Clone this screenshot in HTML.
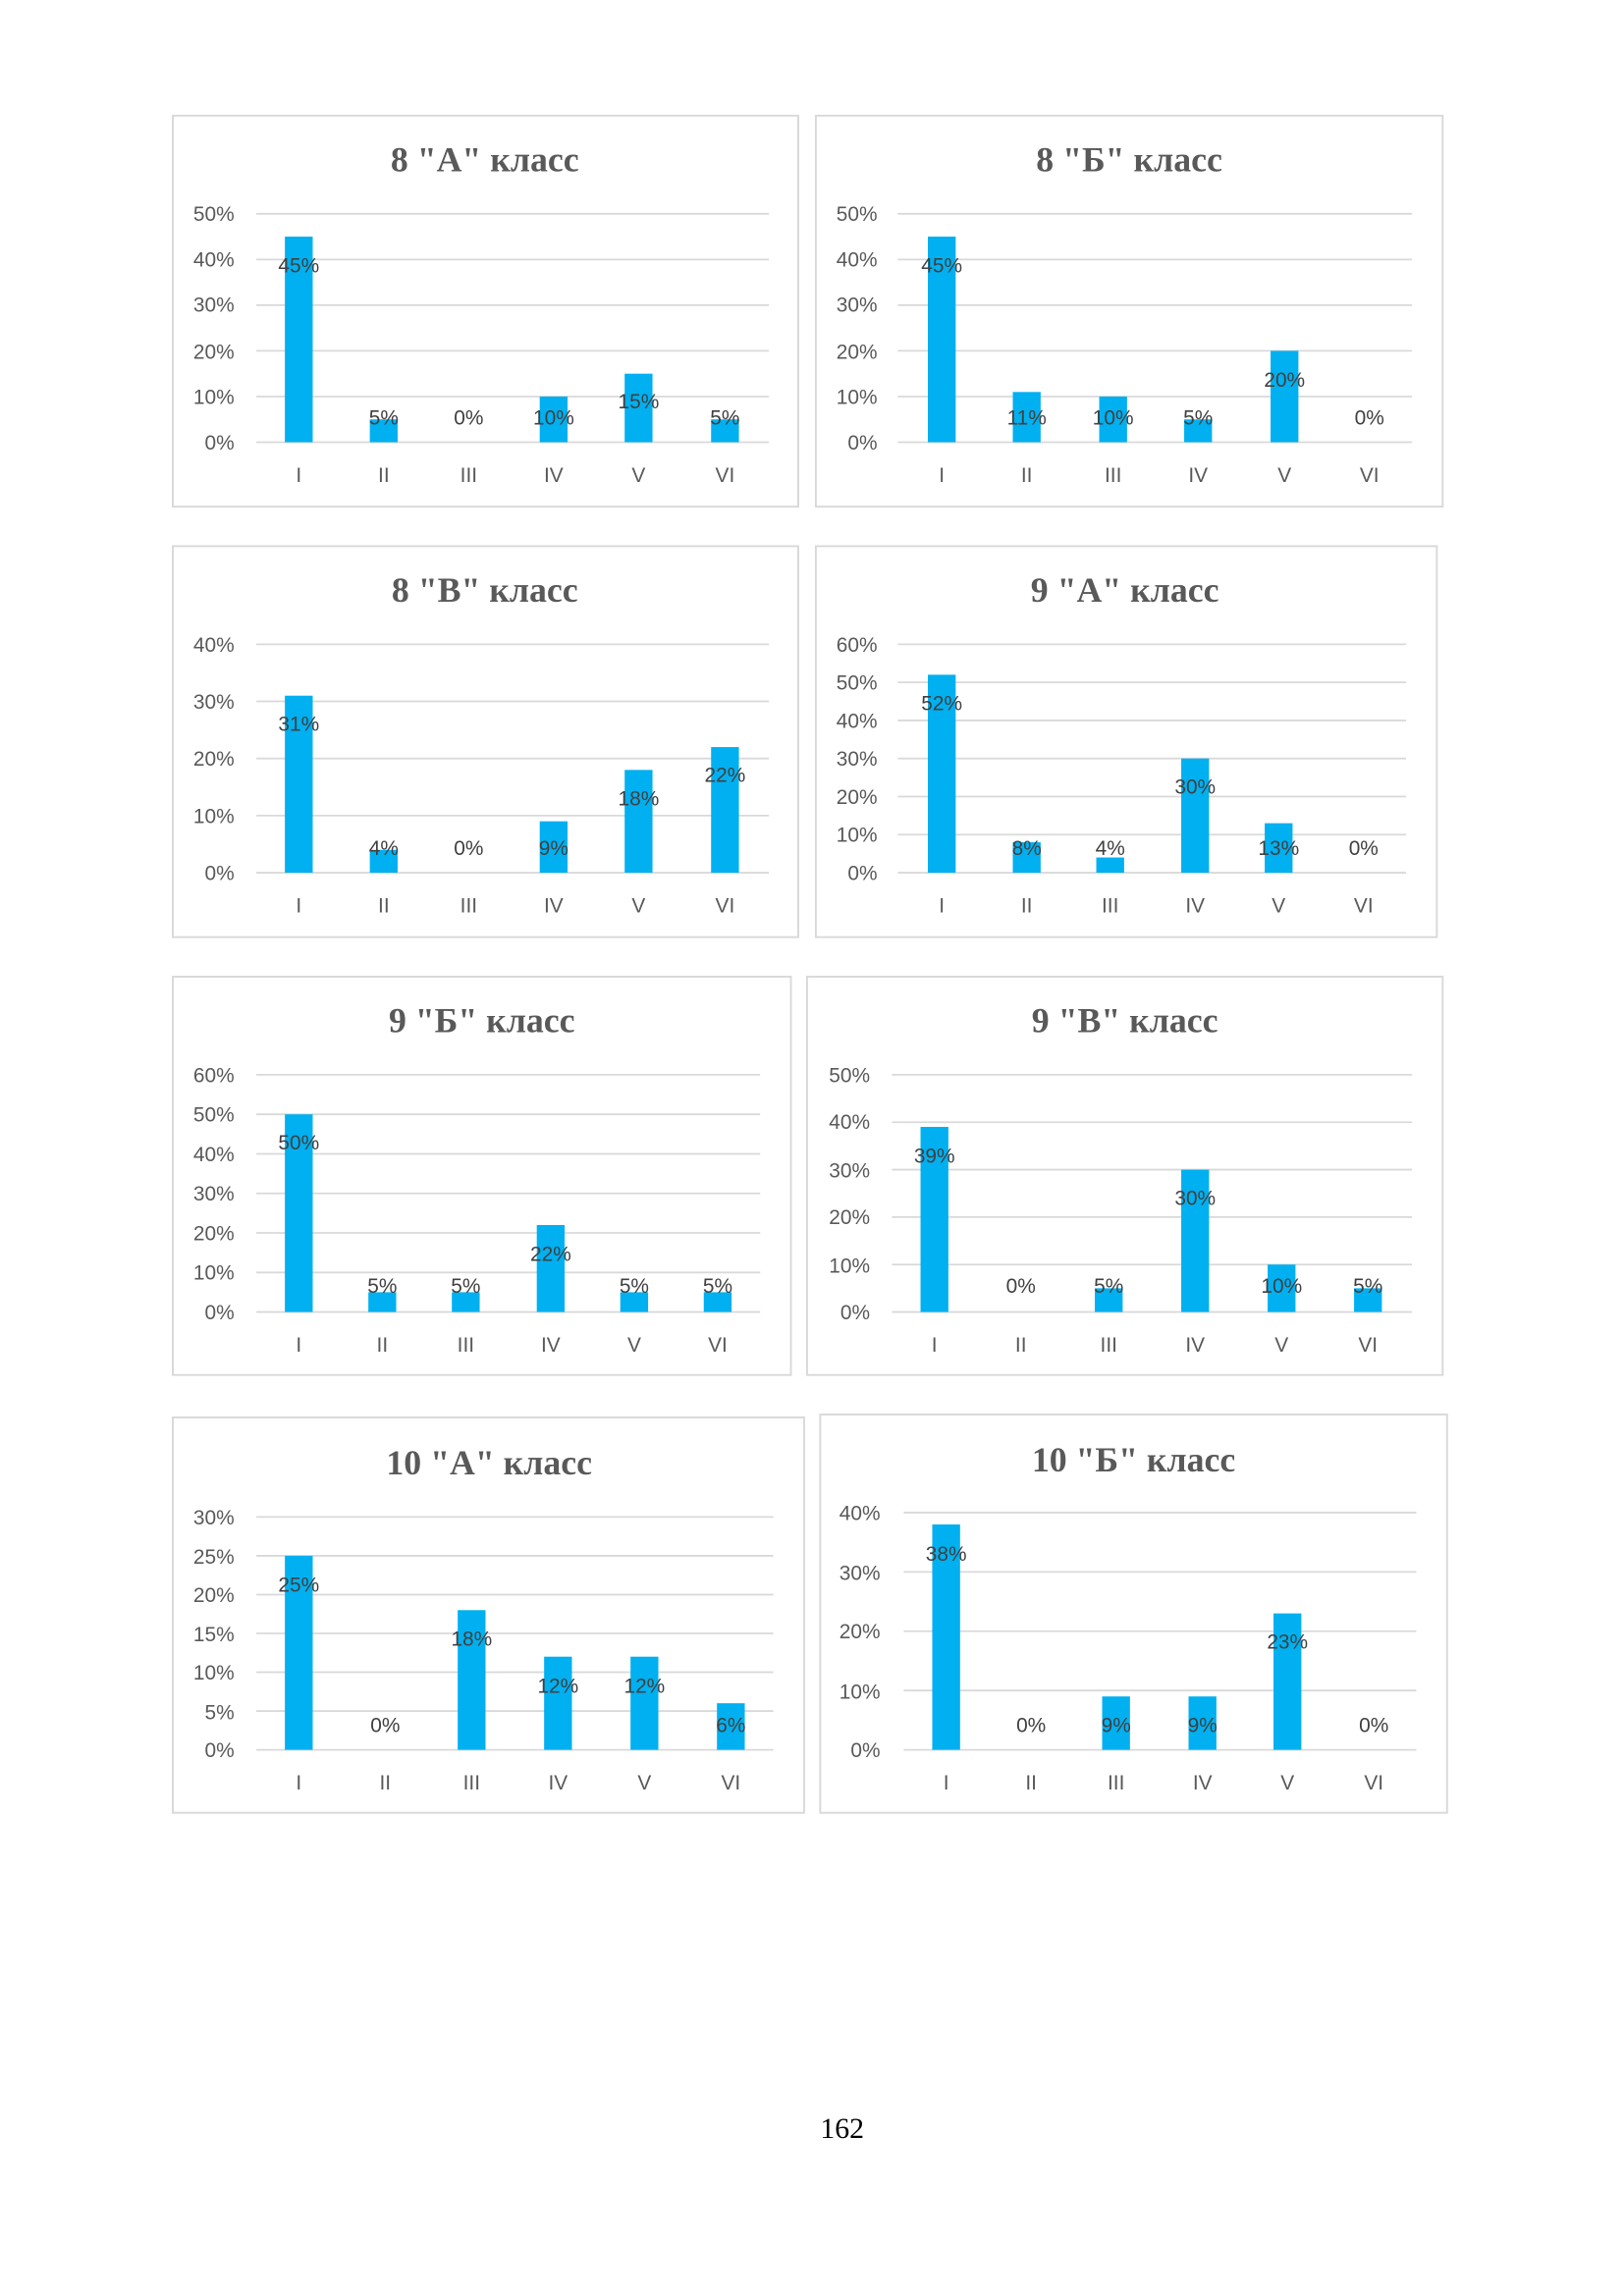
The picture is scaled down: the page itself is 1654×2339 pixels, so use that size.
<!DOCTYPE html>
<html><head><meta charset="utf-8"><style>
html,body{margin:0;padding:0;background:#fff;}
svg{display:block;}
.t{font-family:"Liberation Serif",serif;font-weight:bold;font-size:24px;fill:#595959;text-anchor:middle;}
.y{font-family:"Liberation Sans",sans-serif;font-size:14px;fill:#595959;text-anchor:end;}
.x{font-family:"Liberation Sans",sans-serif;font-size:14px;fill:#595959;text-anchor:middle;}
.d{font-family:"Liberation Sans",sans-serif;font-size:14px;fill:#404040;text-anchor:middle;}
.b{fill:#00B0F0;}
.g{stroke:#d9d9d9;stroke-width:1.2;}
.box{fill:#fff;stroke:#d9d9d9;stroke-width:1.3;}
</style></head><body>
<svg width="1654" height="2339" viewBox="0 0 1108.8 1568" xmlns="http://www.w3.org/2000/svg">
<!-- Chart 1 -->
<rect class="box" x="118" y="79" width="427" height="267"/>
<text class="t" x="331" y="117">8 "А" класс</text>
<g class="g"><line x1="175" x2="525" y1="146" y2="146"/><line x1="175" x2="525" y1="177.2" y2="177.2"/><line x1="175" x2="525" y1="208.4" y2="208.4"/><line x1="175" x2="525" y1="239.6" y2="239.6"/><line x1="175" x2="525" y1="270.8" y2="270.8"/><line x1="175" x2="525" y1="302" y2="302"/></g>
<text class="y" x="160" y="151">50%</text><text class="y" x="160" y="182">40%</text><text class="y" x="160" y="213">30%</text><text class="y" x="160" y="245">20%</text><text class="y" x="160" y="276">10%</text><text class="y" x="160" y="307">0%</text>
<rect class="b" x="194.5" y="161.6" width="19" height="140.4"/><rect class="b" x="252.5" y="286.4" width="19" height="15.6"/><rect class="b" x="368.5" y="270.8" width="19" height="31.2"/><rect class="b" x="426.5" y="255.2" width="19" height="46.8"/><rect class="b" x="485.5" y="286.4" width="19" height="15.6"/>
<text class="d" x="204" y="186">45%</text><text class="d" x="262" y="290">5%</text><text class="d" x="320" y="290">0%</text><text class="d" x="378" y="290">10%</text><text class="d" x="436" y="279">15%</text><text class="d" x="495" y="290">5%</text>
<text class="x" x="204" y="329">I</text><text class="x" x="262" y="329">II</text><text class="x" x="320" y="329">III</text><text class="x" x="378" y="329">IV</text><text class="x" x="436" y="329">V</text><text class="x" x="495" y="329">VI</text>

<!-- Chart 2 -->
<rect class="box" x="557" y="79" width="428" height="267"/>
<text class="t" x="771" y="117">8 "Б" класс</text>
<g class="g"><line x1="613" x2="964" y1="146" y2="146"/><line x1="613" x2="964" y1="177.2" y2="177.2"/><line x1="613" x2="964" y1="208.4" y2="208.4"/><line x1="613" x2="964" y1="239.6" y2="239.6"/><line x1="613" x2="964" y1="270.8" y2="270.8"/><line x1="613" x2="964" y1="302" y2="302"/></g>
<text class="y" x="599" y="151">50%</text><text class="y" x="599" y="182">40%</text><text class="y" x="599" y="213">30%</text><text class="y" x="599" y="245">20%</text><text class="y" x="599" y="276">10%</text><text class="y" x="599" y="307">0%</text>
<rect class="b" x="633.5" y="161.6" width="19" height="140.4"/><rect class="b" x="691.5" y="267.7" width="19" height="34.3"/><rect class="b" x="750.5" y="270.8" width="19" height="31.2"/><rect class="b" x="808.5" y="286.4" width="19" height="15.6"/><rect class="b" x="867.5" y="239.6" width="19" height="62.4"/>
<text class="d" x="643" y="186">45%</text><text class="d" x="701" y="290">11%</text><text class="d" x="760" y="290">10%</text><text class="d" x="818" y="290">5%</text><text class="d" x="877" y="264">20%</text><text class="d" x="935" y="290">0%</text>
<text class="x" x="643" y="329">I</text><text class="x" x="701" y="329">II</text><text class="x" x="760" y="329">III</text><text class="x" x="818" y="329">IV</text><text class="x" x="877" y="329">V</text><text class="x" x="935" y="329">VI</text>

<!-- Chart 3 -->
<rect class="box" x="118" y="373" width="427" height="267"/>
<text class="t" x="331" y="411">8 "В" класс</text>
<g class="g"><line x1="175" x2="525" y1="440" y2="440"/><line x1="175" x2="525" y1="479" y2="479"/><line x1="175" x2="525" y1="518" y2="518"/><line x1="175" x2="525" y1="557" y2="557"/><line x1="175" x2="525" y1="596" y2="596"/></g>
<text class="y" x="160" y="445">40%</text><text class="y" x="160" y="484">30%</text><text class="y" x="160" y="523">20%</text><text class="y" x="160" y="562">10%</text><text class="y" x="160" y="601">0%</text>
<rect class="b" x="194.5" y="475.1" width="19" height="120.9"/><rect class="b" x="252.5" y="580.4" width="19" height="15.6"/><rect class="b" x="368.5" y="560.9" width="19" height="35.1"/><rect class="b" x="426.5" y="525.8" width="19" height="70.2"/><rect class="b" x="485.5" y="510.2" width="19" height="85.8"/>
<text class="d" x="204" y="499">31%</text><text class="d" x="262" y="584">4%</text><text class="d" x="320" y="584">0%</text><text class="d" x="378" y="584">9%</text><text class="d" x="436" y="550">18%</text><text class="d" x="495" y="534">22%</text>
<text class="x" x="204" y="623">I</text><text class="x" x="262" y="623">II</text><text class="x" x="320" y="623">III</text><text class="x" x="378" y="623">IV</text><text class="x" x="436" y="623">V</text><text class="x" x="495" y="623">VI</text>

<!-- Chart 4 -->
<rect class="box" x="557" y="373" width="424" height="267"/>
<text class="t" x="768" y="411">9 "А" класс</text>
<g class="g"><line x1="613" x2="960" y1="440" y2="440"/><line x1="613" x2="960" y1="466" y2="466"/><line x1="613" x2="960" y1="492" y2="492"/><line x1="613" x2="960" y1="518" y2="518"/><line x1="613" x2="960" y1="544" y2="544"/><line x1="613" x2="960" y1="570" y2="570"/><line x1="613" x2="960" y1="596" y2="596"/></g>
<text class="y" x="599" y="445">60%</text><text class="y" x="599" y="471">50%</text><text class="y" x="599" y="497">40%</text><text class="y" x="599" y="523">30%</text><text class="y" x="599" y="549">20%</text><text class="y" x="599" y="575">10%</text><text class="y" x="599" y="601">0%</text>
<rect class="b" x="633.5" y="460.8" width="19" height="135.2"/><rect class="b" x="691.5" y="575.2" width="19" height="20.8"/><rect class="b" x="748.5" y="585.6" width="19" height="10.4"/><rect class="b" x="806.5" y="518" width="19" height="78"/><rect class="b" x="863.5" y="562.2" width="19" height="33.8"/>
<text class="d" x="643" y="485">52%</text><text class="d" x="701" y="584">8%</text><text class="d" x="758" y="584">4%</text><text class="d" x="816" y="542">30%</text><text class="d" x="873" y="584">13%</text><text class="d" x="931" y="584">0%</text>
<text class="x" x="643" y="623">I</text><text class="x" x="701" y="623">II</text><text class="x" x="758" y="623">III</text><text class="x" x="816" y="623">IV</text><text class="x" x="873" y="623">V</text><text class="x" x="931" y="623">VI</text>

<!-- Chart 5 -->
<rect class="box" x="118" y="667" width="422" height="272"/>
<text class="t" x="329" y="705">9 "Б" класс</text>
<g class="g"><line x1="175" x2="519" y1="734" y2="734"/><line x1="175" x2="519" y1="761" y2="761"/><line x1="175" x2="519" y1="788" y2="788"/><line x1="175" x2="519" y1="815" y2="815"/><line x1="175" x2="519" y1="842" y2="842"/><line x1="175" x2="519" y1="869" y2="869"/><line x1="175" x2="519" y1="896" y2="896"/></g>
<text class="y" x="160" y="739">60%</text><text class="y" x="160" y="766">50%</text><text class="y" x="160" y="793">40%</text><text class="y" x="160" y="820">30%</text><text class="y" x="160" y="847">20%</text><text class="y" x="160" y="874">10%</text><text class="y" x="160" y="901">0%</text>
<rect class="b" x="194.5" y="761" width="19" height="135"/><rect class="b" x="251.5" y="882.5" width="19" height="13.5"/><rect class="b" x="308.5" y="882.5" width="19" height="13.5"/><rect class="b" x="366.5" y="836.6" width="19" height="59.4"/><rect class="b" x="423.5" y="882.5" width="19" height="13.5"/><rect class="b" x="480.5" y="882.5" width="19" height="13.5"/>
<text class="d" x="204" y="785">50%</text><text class="d" x="261" y="883">5%</text><text class="d" x="318" y="883">5%</text><text class="d" x="376" y="861">22%</text><text class="d" x="433" y="883">5%</text><text class="d" x="490" y="883">5%</text>
<text class="x" x="204" y="923">I</text><text class="x" x="261" y="923">II</text><text class="x" x="318" y="923">III</text><text class="x" x="376" y="923">IV</text><text class="x" x="433" y="923">V</text><text class="x" x="490" y="923">VI</text>

<!-- Chart 6 -->
<rect class="box" x="551" y="667" width="434" height="272"/>
<text class="t" x="768" y="705">9 "В" класс</text>
<g class="g"><line x1="609" x2="964" y1="734" y2="734"/><line x1="609" x2="964" y1="766.4" y2="766.4"/><line x1="609" x2="964" y1="798.8" y2="798.8"/><line x1="609" x2="964" y1="831.2" y2="831.2"/><line x1="609" x2="964" y1="863.6" y2="863.6"/><line x1="609" x2="964" y1="896" y2="896"/></g>
<text class="y" x="594" y="739">50%</text><text class="y" x="594" y="771">40%</text><text class="y" x="594" y="804">30%</text><text class="y" x="594" y="836">20%</text><text class="y" x="594" y="869">10%</text><text class="y" x="594" y="901">0%</text>
<rect class="b" x="628.5" y="769.6" width="19" height="126.4"/><rect class="b" x="747.5" y="879.8" width="19" height="16.2"/><rect class="b" x="806.5" y="798.8" width="19" height="97.2"/><rect class="b" x="865.5" y="863.6" width="19" height="32.4"/><rect class="b" x="924.5" y="879.8" width="19" height="16.2"/>
<text class="d" x="638" y="794">39%</text><text class="d" x="697" y="883">0%</text><text class="d" x="757" y="883">5%</text><text class="d" x="816" y="823">30%</text><text class="d" x="875" y="883">10%</text><text class="d" x="934" y="883">5%</text>
<text class="x" x="638" y="923">I</text><text class="x" x="697" y="923">II</text><text class="x" x="757" y="923">III</text><text class="x" x="816" y="923">IV</text><text class="x" x="875" y="923">V</text><text class="x" x="934" y="923">VI</text>

<!-- Chart 7 -->
<rect class="box" x="118" y="968" width="431" height="270"/>
<text class="t" x="334" y="1007">10 "А" класс</text>
<g class="g"><line x1="175" x2="528" y1="1036" y2="1036"/><line x1="175" x2="528" y1="1062.5" y2="1062.5"/><line x1="175" x2="528" y1="1089" y2="1089"/><line x1="175" x2="528" y1="1115.5" y2="1115.5"/><line x1="175" x2="528" y1="1142" y2="1142"/><line x1="175" x2="528" y1="1168.5" y2="1168.5"/><line x1="175" x2="528" y1="1195" y2="1195"/></g>
<text class="y" x="160" y="1041">30%</text><text class="y" x="160" y="1068">25%</text><text class="y" x="160" y="1094">20%</text><text class="y" x="160" y="1121">15%</text><text class="y" x="160" y="1147">10%</text><text class="y" x="160" y="1174">5%</text><text class="y" x="160" y="1200">0%</text>
<rect class="b" x="194.5" y="1062.5" width="19" height="132.5"/><rect class="b" x="312.5" y="1099.6" width="19" height="95.4"/><rect class="b" x="371.5" y="1131.4" width="19" height="63.6"/><rect class="b" x="430.5" y="1131.4" width="19" height="63.6"/><rect class="b" x="489.5" y="1163.2" width="19" height="31.8"/>
<text class="d" x="204" y="1087">25%</text><text class="d" x="263" y="1183">0%</text><text class="d" x="322" y="1124">18%</text><text class="d" x="381" y="1156">12%</text><text class="d" x="440" y="1156">12%</text><text class="d" x="499" y="1183">6%</text>
<text class="x" x="204" y="1222">I</text><text class="x" x="263" y="1222">II</text><text class="x" x="322" y="1222">III</text><text class="x" x="381" y="1222">IV</text><text class="x" x="440" y="1222">V</text><text class="x" x="499" y="1222">VI</text>

<!-- Chart 8 -->
<rect class="box" x="560" y="966" width="428" height="272"/>
<text class="t" x="774" y="1005">10 "Б" класс</text>
<g class="g"><line x1="617" x2="967" y1="1033" y2="1033"/><line x1="617" x2="967" y1="1073.5" y2="1073.5"/><line x1="617" x2="967" y1="1114" y2="1114"/><line x1="617" x2="967" y1="1154.5" y2="1154.5"/><line x1="617" x2="967" y1="1195" y2="1195"/></g>
<text class="y" x="601" y="1038">40%</text><text class="y" x="601" y="1079">30%</text><text class="y" x="601" y="1119">20%</text><text class="y" x="601" y="1160">10%</text><text class="y" x="601" y="1200">0%</text>
<rect class="b" x="636.5" y="1041.1" width="19" height="153.9"/><rect class="b" x="752.5" y="1158.55" width="19" height="36.45"/><rect class="b" x="811.5" y="1158.55" width="19" height="36.45"/><rect class="b" x="869.5" y="1101.85" width="19" height="93.15"/>
<text class="d" x="646" y="1066">38%</text><text class="d" x="704" y="1183">0%</text><text class="d" x="762" y="1183">9%</text><text class="d" x="821" y="1183">9%</text><text class="d" x="879" y="1126">23%</text><text class="d" x="938" y="1183">0%</text>
<text class="x" x="646" y="1222">I</text><text class="x" x="704" y="1222">II</text><text class="x" x="762" y="1222">III</text><text class="x" x="821" y="1222">IV</text><text class="x" x="879" y="1222">V</text><text class="x" x="938" y="1222">VI</text>

<text x="575" y="1460" style="font-family:'Liberation Serif',serif;font-size:20px;fill:#000;text-anchor:middle;">162</text>
</svg>
</body></html>
